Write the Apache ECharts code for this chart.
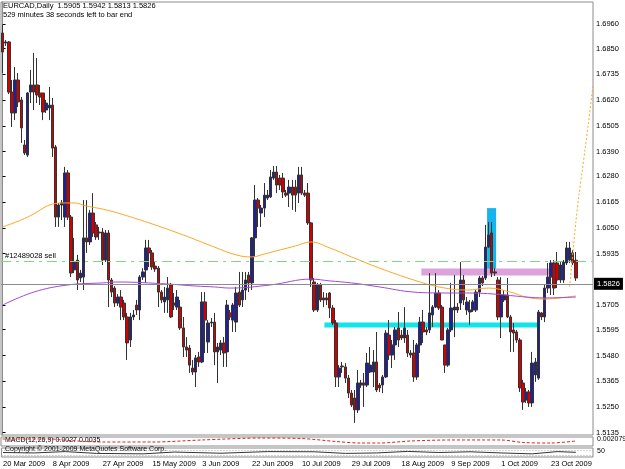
<!DOCTYPE html>
<html>
<head>
<meta charset="utf-8">
<script src="https://cdn.jsdelivr.net/npm/echarts@6/dist/echarts.min.js"></script>
<style>
  html, body { margin: 0; padding: 0; background: #fff; }
  #chart { width: 625px; height: 469px; }
</style>
</head>
<body>
<div id="chart"></div>
<script>
const symbolInfo = 'EURCAD,Daily  1.5905 1.5942 1.5813 1.5826';
const timerInfo = '529 minutes 38 seconds left to bar end';
const orderText = '#12489028 sell';
const macdText = 'MACD(12,26,9) 0.0027 0.0035';
const copyText = 'Copyright \u00a9 2001-2009 MetaQuotes Software Corp.';

// date labels, one every 16 bars
const dateLabels = ['20 Mar 2009', '8 Apr 2009', '27 Apr 2009', '15 May 2009', '3 Jun 2009', '22 Jun 2009',
  '10 Jul 2009', '29 Jul 2009', '18 Aug 2009', '9 Sep 2009', '1 Oct 2009', '23 Oct 2009'];
const labelStep = 16;
const slotCount = 190;   // bars + empty shift on the right

const priceTicks = [1.6960, 1.6850, 1.6735, 1.6620, 1.6505, 1.6390, 1.6280, 1.6165, 1.6050,
  1.5935, 1.5705, 1.5595, 1.5480, 1.5365, 1.5250, 1.5135];
const lastPrice = 1.5826;
const orderPrice = 1.5924;

// daily bars: [open, close, low, high]
const candles = [
  [1.6920,1.6835,1.6741,1.6956],[1.6875,1.6880,1.6862,1.6889],[1.6880,1.6656,1.6647,1.6884],[1.6656,1.6563,1.6500,1.6710],
  [1.6563,1.6710,1.6531,1.6768],[1.6710,1.6612,1.6589,1.6741],[1.6621,1.6496,1.6429,1.6634],[1.6420,1.6384,1.6375,1.6442],
  [1.6375,1.6652,1.6366,1.6656],[1.6656,1.6688,1.6607,1.6755],[1.6688,1.6656,1.6576,1.6831],[1.6688,1.6643,1.6607,1.6808],
  [1.6652,1.6634,1.6598,1.6688],[1.6652,1.6567,1.6531,1.6652],[1.6576,1.6607,1.6563,1.6621],[1.6585,1.6598,1.6531,1.6679],
  [1.6598,1.6406,1.6366,1.6630],[1.6411,1.6098,1.6054,1.6420],[1.6098,1.6152,1.6054,1.6161],[1.6152,1.6161,1.6085,1.6174],
  [1.6098,1.6295,1.6054,1.6322],[1.6295,1.6098,1.6085,1.6308],[1.6098,1.5848,1.5830,1.6107],[1.5862,1.5897,1.5848,1.6005],
  [1.5906,1.5817,1.5772,1.5929],[1.5826,1.5848,1.5808,1.5862],[1.5830,1.6005,1.5772,1.6174],[1.6005,1.5987,1.5938,1.6174],
  [1.5987,1.6116,1.5973,1.6130],[1.6116,1.6027,1.6009,1.6205],[1.6063,1.6009,1.5996,1.6076],[1.6031,1.6027,1.5996,1.6054],
  [1.6031,1.5906,1.5884,1.6049],[1.5906,1.6027,1.5897,1.6040],[1.6027,1.5817,1.5696,1.6040],[1.5817,1.5763,1.5741,1.5826],
  [1.5781,1.5714,1.5696,1.5790],[1.5714,1.5741,1.5701,1.5754],[1.5741,1.5696,1.5638,1.5772],[1.5714,1.5652,1.5638,1.5728],
  [1.5652,1.5536,1.5460,1.5670],[1.5549,1.5652,1.5518,1.5670],[1.5652,1.5661,1.5638,1.5683],[1.5705,1.5683,1.5661,1.5728],
  [1.5683,1.5830,1.5638,1.5839],[1.5830,1.5853,1.5817,1.5870],[1.5862,1.5960,1.5804,1.5996],[1.5960,1.5938,1.5875,1.5996],
  [1.5938,1.5875,1.5862,1.5951],[1.5879,1.5866,1.5853,1.5897],[1.5870,1.5763,1.5696,1.5879],[1.5763,1.5728,1.5714,1.5772],
  [1.5719,1.5741,1.5670,1.5786],[1.5728,1.5781,1.5670,1.5830],[1.5795,1.5652,1.5647,1.5804],[1.5705,1.5714,1.5683,1.5759],
  [1.5696,1.5741,1.5683,1.5772],[1.5696,1.5603,1.5594,1.5728],[1.5603,1.5518,1.5473,1.5652],[1.5518,1.5504,1.5473,1.5562],
  [1.5513,1.5437,1.5402,1.5527],[1.5424,1.5406,1.5393,1.5460],[1.5406,1.5469,1.5339,1.5482],[1.5473,1.5451,1.5429,1.5496],
  [1.5451,1.5719,1.5446,1.5763],[1.5719,1.5638,1.5491,1.5763],[1.5540,1.5625,1.5491,1.5638],[1.5629,1.5625,1.5607,1.5647],
  [1.5629,1.5496,1.5437,1.5670],[1.5496,1.5518,1.5357,1.5536],[1.5504,1.5536,1.5482,1.5549],[1.5536,1.5491,1.5429,1.5562],
  [1.5496,1.5705,1.5429,1.5728],[1.5670,1.5652,1.5638,1.5683],[1.5638,1.5705,1.5585,1.5714],[1.5629,1.5759,1.5585,1.5786],
  [1.5763,1.5705,1.5696,1.5853],[1.5728,1.5772,1.5696,1.5853],[1.5772,1.5817,1.5728,1.5853],[1.5839,1.5804,1.5763,1.5853],
  [1.5804,1.6005,1.5772,1.6009],[1.6005,1.6174,1.5920,1.6241],[1.6174,1.6138,1.6054,1.6183],[1.6116,1.6138,1.6054,1.6152],
  [1.6138,1.6196,1.6098,1.6250],[1.6183,1.6196,1.6174,1.6219],[1.6188,1.6277,1.6183,1.6308],[1.6272,1.6299,1.6264,1.6326],
  [1.6299,1.6241,1.6205,1.6326],[1.6272,1.6241,1.6219,1.6286],[1.6272,1.6210,1.6183,1.6295],[1.6205,1.6196,1.6188,1.6219],
  [1.6205,1.6232,1.6143,1.6264],[1.6232,1.6196,1.6130,1.6264],[1.6232,1.6196,1.6121,1.6264],[1.6205,1.6286,1.6161,1.6322],
  [1.6286,1.6205,1.6196,1.6322],[1.6205,1.6196,1.6188,1.6219],[1.6205,1.6072,1.6063,1.6250],[1.6072,1.5817,1.5786,1.6076],
  [1.5808,1.5683,1.5674,1.5826],[1.5683,1.5795,1.5674,1.5804],[1.5795,1.5728,1.5719,1.5804],[1.5737,1.5728,1.5696,1.5763],
  [1.5737,1.5728,1.5705,1.5759],[1.5759,1.5692,1.5647,1.5763],[1.5692,1.5625,1.5616,1.5705],[1.5625,1.5384,1.5339,1.5638],
  [1.5384,1.5424,1.5339,1.5437],[1.5433,1.5429,1.5402,1.5451],[1.5429,1.5379,1.5357,1.5446],[1.5379,1.5312,1.5290,1.5393],
  [1.5312,1.5259,1.5250,1.5326],[1.5290,1.5237,1.5179,1.5326],[1.5237,1.5357,1.5223,1.5415],[1.5348,1.5357,1.5335,1.5371],
  [1.5357,1.5348,1.5250,1.5402],[1.5348,1.5446,1.5339,1.5491],[1.5406,1.5437,1.5402,1.5518],[1.5406,1.5451,1.5339,1.5504],
  [1.5451,1.5326,1.5317,1.5585],[1.5348,1.5335,1.5317,1.5357],[1.5348,1.5384,1.5312,1.5393],[1.5384,1.5580,1.5379,1.5594],
  [1.5571,1.5482,1.5460,1.5638],[1.5482,1.5527,1.5424,1.5549],[1.5527,1.5594,1.5460,1.5607],[1.5603,1.5549,1.5518,1.5674],
  [1.5571,1.5558,1.5549,1.5594],[1.5558,1.5603,1.5536,1.5696],[1.5571,1.5491,1.5473,1.5594],[1.5491,1.5482,1.5469,1.5504],
  [1.5491,1.5384,1.5362,1.5549],[1.5384,1.5527,1.5371,1.5536],[1.5527,1.5629,1.5491,1.5652],[1.5629,1.5585,1.5536,1.5683],
  [1.5594,1.5585,1.5571,1.5607],[1.5594,1.5670,1.5580,1.5848],[1.5661,1.5696,1.5607,1.5705],[1.5696,1.5759,1.5692,1.5848],
  [1.5759,1.5692,1.5683,1.5772],[1.5696,1.5549,1.5549,1.5705],[1.5527,1.5437,1.5402,1.5527],[1.5437,1.5594,1.5429,1.5603],
  [1.5594,1.5692,1.5585,1.5804],[1.5683,1.5696,1.5562,1.5839],[1.5696,1.5683,1.5670,1.5714],[1.5714,1.5817,1.5683,1.5897],
  [1.5817,1.5728,1.5705,1.5839],[1.5683,1.5719,1.5661,1.5741],[1.5674,1.5683,1.5616,1.5728],[1.5683,1.5719,1.5674,1.5728],
  [1.5683,1.5763,1.5674,1.5772],[1.5763,1.5826,1.5741,1.5835],[1.5826,1.5804,1.5790,1.5835],[1.5826,1.5964,1.5817,1.6063],
  [1.5964,1.6018,1.5960,1.6076],[1.6027,1.5848,1.5830,1.6076],[1.5853,1.5848,1.5835,1.5870],[1.5817,1.5652,1.5638,1.5830],
  [1.5652,1.5750,1.5558,1.5830],[1.5728,1.5750,1.5719,1.5772],[1.5750,1.5652,1.5647,1.5826],[1.5652,1.5585,1.5496,1.5661],
  [1.5594,1.5580,1.5496,1.5625],[1.5585,1.5549,1.5536,1.5594],[1.5549,1.5335,1.5317,1.5558],[1.5357,1.5272,1.5237,1.5371],
  [1.5281,1.5317,1.5268,1.5335],[1.5317,1.5268,1.5250,1.5326],[1.5268,1.5446,1.5250,1.5496],[1.5393,1.5451,1.5362,1.5469],
  [1.5379,1.5674,1.5371,1.5683],[1.5670,1.5652,1.5638,1.5674],[1.5652,1.5781,1.5629,1.5795],[1.5781,1.5830,1.5759,1.5893],
  [1.5830,1.5893,1.5750,1.5906],[1.5893,1.5781,1.5750,1.5906],[1.5893,1.5817,1.5781,1.5942],[1.5817,1.5884,1.5804,1.5897],
  [1.5817,1.5897,1.5804,1.5906],[1.5893,1.5960,1.5884,1.5987],[1.5906,1.5960,1.5893,1.5987],[1.5938,1.5893,1.5884,1.5951],
  [1.5905,1.5826,1.5813,1.5942]
];

// moving averages: [bar, price]
const maOrange = [[0,1.6054],[6,1.6085],[10,1.6112],[16,1.6156],[20,1.6161],[23,1.6161],[27,1.6147],[32,1.6134],
  [37,1.6116],[47,1.6072],[58,1.6018],[68,1.5964],[75,1.5929],[80,1.5920],[84,1.5933],[89,1.5951],[94,1.5969],
  [99,1.5987],[105,1.5960],[112,1.5920],[121,1.5870],[132,1.5817],[140,1.5786],[149,1.5772],[156,1.5781],
  [163,1.5763],[168,1.5741],[174,1.5732],[179,1.5737],[184,1.5746]];
const maPurple = [[0,1.5705],[10,1.5763],[21,1.5795],[32,1.5804],[37,1.5808],[53,1.5799],[62,1.5790],[68,1.5786],
  [73,1.5781],[86,1.5795],[99,1.5821],[105,1.5813],[112,1.5804],[121,1.5786],[132,1.5763],[142,1.5759],
  [149,1.5759],[158,1.5754],[168,1.5741],[174,1.5737],[184,1.5741]];
const projection = [[182,1.5786],[183,1.5933],[184,1.6076],[185,1.6196],[186,1.6299],[187,1.6406],[188,1.6514],[189.5,1.6688]];

// chart objects: [[barFrom, priceTop], [barTo, priceBottom]]
const boxCyan = [[103.3, 1.5627], [171.6, 1.5605]];
const boxBlue = [[155.5, 1.6138], [158.4, 1.5853]];
const boxPlum = [[134.4, 1.5868], [177.3, 1.5837]];

// lower windows
const macdSignal = [[0,0.0044],[16,0.0044],[19,0.0027],[32,-0.0009],[48,-0.0009],[64,0.0027],[83,0.0062],
  [96,0.0053],[107,0.0000],[115,-0.0027],[121,-0.0027],[131,0.0009],[144,0.0027],[160,0.0027],[167,-0.0018],
  [176,-0.0027],[184,0.0009]];
const oscLine = [[0,50],[10,45],[20,60],[30,40],[45,35],[55,55],[70,42],[85,60],[100,58],[110,40],[120,45],
  [130,62],[140,50],[150,58],[160,45],[170,35],[178,60],[184,52]];

const slotIds = Array.from({length: slotCount}, (_, i) => i);
const font = 'Liberation Sans';
const chart = echarts.init(document.getElementById('chart'));

const option = {
  animation: false,
  backgroundColor: '#fff',
  textStyle: { fontFamily: font },
  grid: [
    { left: 1, top: 2, width: 592, height: 433, show: true, borderColor: '#8c8c8c', borderWidth: 1 },
    { left: 1, top: 437, width: 592, height: 9, show: true, borderColor: '#8c8c8c', borderWidth: 1 },
    { left: 1, top: 448, width: 592, height: 9, show: true, borderColor: '#8c8c8c', borderWidth: 1 }
  ],
  xAxis: [
    { type: 'category', gridIndex: 0, data: slotIds, show: false },
    { type: 'value', gridIndex: 0, min: -0.5, max: slotCount - 0.5, show: false },
    { type: 'value', gridIndex: 1, min: -0.5, max: slotCount - 0.5, show: false },
    {
      type: 'category', gridIndex: 2, data: slotIds,
      axisLine: { show: false },
      axisTick: {
        interval: (i) => i % labelStep === 0 && i / labelStep < dateLabels.length,
        length: 2, lineStyle: { color: '#000' }
      },
      axisLabel: {
        interval: (i) => i % labelStep === 0 && i / labelStep < dateLabels.length,
        formatter: (v, i) => dateLabels[i / labelStep] || '',
        align: 'left', margin: 3, fontSize: 7.5, color: '#000', fontFamily: font
      }
    },
    { type: 'value', gridIndex: 2, min: -0.5, max: slotCount - 0.5, show: false }
  ],
  yAxis: [
    {
      type: 'value', gridIndex: 0, position: 'right', min: 1.51249, max: 1.70583,
      splitLine: { show: false },
      axisLine: { show: true, lineStyle: { color: '#8c8c8c' } },
      axisTick: { show: true, customValues: priceTicks, length: 3, inside: false, lineStyle: { color: '#000' } },
      axisLabel: {
        customValues: priceTicks, formatter: (v) => v.toFixed(4),
        fontSize: 7.5, color: '#000', margin: 3, fontFamily: font
      }
    },
    { type: 'value', gridIndex: 1, position: 'right', min: -0.008, max: 0.008, show: false },
    { type: 'value', gridIndex: 2, position: 'right', min: 0, max: 100, show: false }
  ],
  graphic: [
    { type: 'text', left: 3, top: 2, style: { text: symbolInfo, font: '7.5px ' + font, fill: '#000' } },
    { type: 'text', left: 3, top: 11, style: { text: timerInfo, font: '7.5px ' + font, fill: '#000' } },
    { type: 'text', left: 5, top: 437, style: { text: macdText, font: '7px ' + font, fill: '#000' } },
    { type: 'text', left: 5, top: 446, style: { text: copyText, font: '7px ' + font, fill: '#000' } },
    { type: 'text', left: 597, top: 436, style: { text: '0.002079', font: '7px ' + font, fill: '#000' } },
    { type: 'text', left: 597, top: 448, style: { text: '50', font: '7px ' + font, fill: '#000' } }
  ],
  series: [
    {
      type: 'line', xAxisIndex: 1, yAxisIndex: 0, data: [], silent: true, z: 1,
      markArea: {
        silent: true,
        data: [
          [{ coord: boxCyan[0], itemStyle: { color: '#12e4ea' } }, { coord: boxCyan[1] }],
          [{ coord: boxBlue[0], itemStyle: { color: '#16b4ee' } }, { coord: boxBlue[1] }],
          [{ coord: boxPlum[0], itemStyle: { color: '#dca2dc' } }, { coord: boxPlum[1] }]
        ]
      }
    },
    {
      type: 'candlestick', xAxisIndex: 0, yAxisIndex: 0, data: candles, z: 3,
      barWidth: 3,
      itemStyle: { color: '#20209a', color0: '#d40000', borderColor: '#333', borderColor0: '#333', borderWidth: 1 }
    },
    { type: 'line', xAxisIndex: 1, yAxisIndex: 0, data: maOrange, smooth: 0.4, showSymbol: false,
      lineStyle: { color: '#ffa726', width: 1 }, z: 4 },
    { type: 'line', xAxisIndex: 1, yAxisIndex: 0, data: maPurple, smooth: 0.4, showSymbol: false,
      lineStyle: { color: '#a448d8', width: 1 }, z: 4,
      markLine: {
        silent: true, symbol: 'none',
        data: [
          {
            yAxis: lastPrice, lineStyle: { color: '#8c8c8c', type: 'solid', width: 1 },
            label: { position: 'end', distance: 1, formatter: lastPrice.toFixed(4), backgroundColor: '#000',
              color: '#fff', fontSize: 7.5, padding: [2, 3], fontFamily: font }
          },
          {
            yAxis: orderPrice, lineStyle: { color: '#7fd87f', type: [10, 5, 3, 5], width: 1 },
            label: { position: 'insideStartTop', formatter: orderText, color: '#000', fontSize: 7.5,
              distance: [4, 1], fontFamily: font }
          }
        ]
      }
    },
    { type: 'line', xAxisIndex: 1, yAxisIndex: 0, data: projection, smooth: 0.3, showSymbol: false,
      lineStyle: { color: '#ffa726', width: 1, type: [2, 2] }, z: 4 },
    { type: 'line', xAxisIndex: 2, yAxisIndex: 1, data: macdSignal, smooth: 0.3, showSymbol: false,
      lineStyle: { color: '#e02020', width: 1, type: [3, 2] } },
    { type: 'line', xAxisIndex: 4, yAxisIndex: 2, data: oscLine, showSymbol: false,
      lineStyle: { color: '#333', width: 1 },
      markLine: { silent: true, symbol: 'none', label: { show: false },
        data: [{ yAxis: 20 }, { yAxis: 80 }], lineStyle: { color: '#aaa', type: [1, 2], width: 1 } } }
  ]
};
chart.setOption(option);
</script>
</body>
</html>
